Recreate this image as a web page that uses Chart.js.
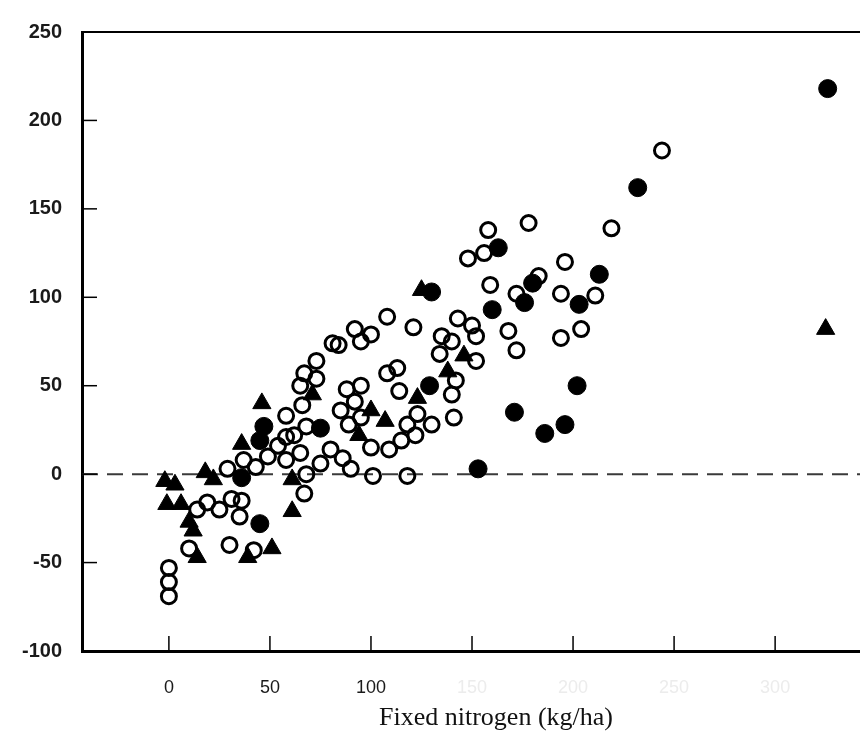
<!DOCTYPE html>
<html>
<head>
<meta charset="utf-8">
<script src="https://cdn.jsdelivr.net/npm/chart.js@4"></script>
<style>
  html, body { margin: 0; padding: 0; background: #fff; }
  #wrap { width: 860px; height: 753px; }
</style>
</head>
<body>
<div id="wrap"><canvas id="nChart" width="860" height="753"></canvas></div>
<script>
// values
const openX = [0, 0, 0, 10, 30, 42, 14, 19, 25, 31, 36, 35, 29, 37, 43, 49, 54, 58, 58, 65, 58,
  92, 100, 81, 84, 95, 73, 67, 73, 65, 88, 95, 66, 92, 85, 89, 95, 62, 68, 80, 86, 75, 90,
  100, 101, 118, 68, 67, 108, 121, 143, 150, 152, 135, 140, 134, 152, 168, 172, 108, 113,
  114, 142, 140, 141, 123, 118, 130, 122, 115, 109, 178, 158, 148, 156, 196, 159, 172, 183,
  194, 211, 219, 194, 204, 244];
const openY = [-53, -61, -69, -42, -40, -43, -20, -16, -20, -14, -15, -24, 3, 8, 4, 10, 16, 8, 21, 12, 33,
  82, 79, 74, 73, 75, 64, 57, 54, 50, 48, 50, 39, 41, 36, 28, 32, 22, 27, 14, 9, 6, 3,
  15, -1, -1, 0, -11, 89, 83, 88, 84, 78, 78, 75, 68, 64, 81, 70, 57, 60,
  47, 53, 45, 32, 34, 28, 28, 22, 19, 14, 142, 138, 122, 125, 120, 107, 102, 112,
  102, 101, 139, 77, 82, 183];

const filledX = [326, 232, 163, 130, 160, 176, 180, 213, 203, 129, 171, 186, 196, 202, 153, 75, 47, 45, 36, 45];
const filledY = [218, 162, 128, 103, 93, 97, 108, 113, 96, 50, 35, 23, 28, 50, 3, 26, 27, 19, -2, -28];

const triX = [325, 125, 46, 36, 71, 18, 22, -2, 3, -1, 6, 10, 12, 14, 39, 51, 61, 61, 94, 100, 107, 123, 138, 146];
const triY = [82, 104, 40, 17, 45, 1, -3, -4, -6, -17, -17, -27, -32, -47, -47, -42, -21, -3, 22, 36, 30, 43, 58, 67];

const xTicks = [0, 50, 100, 150, 200, 250, 300];
const yTicks = [-100, -50, 0, 50, 100, 150, 200, 250];
const xTitle = 'Fixed nitrogen (kg/ha)';

function pts(xs, ys) {
  return xs.map((x, i) => ({ x: x, y: ys[i] }));
}

// inward tick marks, top frame, dashed zero line, off-centre axis title
const decor = {
  id: 'decor',
  beforeDatasetsDraw(chart) {
    const { ctx, chartArea: a, scales } = chart;
    const y0 = scales.y.getPixelForValue(0);
    ctx.save();
    ctx.strokeStyle = '#3a3a3a';
    ctx.lineWidth = 2;
    ctx.setLineDash([16, 9]);
    ctx.beginPath();
    ctx.moveTo(a.left, y0);
    ctx.lineTo(a.right, y0);
    ctx.stroke();
    ctx.restore();
  },
  afterDraw(chart) {
    const { ctx, chartArea: a, scales } = chart;
    ctx.save();
    ctx.strokeStyle = '#000';
    ctx.lineWidth = 2;
    ctx.beginPath();
    ctx.moveTo(a.left, a.top);
    ctx.lineTo(a.right, a.top);
    ctx.stroke();
    ctx.lineWidth = 1.5;
    scales.y.ticks.forEach(t => {
      const py = scales.y.getPixelForValue(t.value);
      ctx.beginPath();
      ctx.moveTo(a.left, py);
      ctx.lineTo(a.left + 15, py);
      ctx.stroke();
    });
    scales.x.ticks.forEach(t => {
      const px = scales.x.getPixelForValue(t.value);
      ctx.beginPath();
      ctx.moveTo(px, a.bottom);
      ctx.lineTo(px, a.bottom - 15);
      ctx.stroke();
    });
    ctx.fillStyle = '#111';
    ctx.font = '26px "Liberation Serif", "DejaVu Serif", serif';
    ctx.textAlign = 'center';
    ctx.textBaseline = 'middle';
    ctx.fillText(xTitle, 496, 718);
    ctx.restore();
  }
};

const ctx = document.getElementById('nChart').getContext('2d');

const nChart = new Chart(ctx, {
  type: 'scatter',
  data: {
    datasets: [
      {
        label: 'open',
        data: pts(openX, openY),
        pointStyle: 'circle',
        pointRadius: 7.5,
        pointHoverRadius: 7.5,
        borderWidth: 3,
        borderColor: '#000',
        backgroundColor: 'rgba(255,255,255,0)'
      },
      {
        label: 'filled',
        data: pts(filledX, filledY),
        pointStyle: 'circle',
        pointRadius: 9,
        pointHoverRadius: 9,
        borderWidth: 1,
        borderColor: '#000',
        backgroundColor: '#000'
      },
      {
        label: 'triangle',
        data: pts(triX, triY),
        pointStyle: 'triangle',
        pointRadius: 10.5,
        pointHoverRadius: 10.5,
        borderWidth: 1,
        borderColor: '#000',
        backgroundColor: '#000'
      }
    ]
  },
  options: {
    responsive: false,
    animation: false,
    layout: { autoPadding: false, padding: { top: 24, right: 0, left: 0, bottom: 0 } },
    plugins: {
      legend: { display: false },
      tooltip: { enabled: false }
    },
    scales: {
      x: {
        type: 'linear',
        min: -43,
        max: 342,
        afterBuildTicks: s => { s.ticks = xTicks.map(v => ({ value: v })); },
        afterFit: s => { s.height = 102; },
        grid: { display: false, drawTicks: false },
        border: { display: true, color: '#000', width: 3 },
        ticks: {
          padding: 26,
          maxRotation: 0,
          color: c => (c.tick && c.tick.value > 100 ? '#ececec' : '#1a1a1a'),
          font: { family: '"Liberation Sans", Arial, sans-serif', size: 18 }
        }
      },
      y: {
        type: 'linear',
        min: -100,
        max: 250,
        afterBuildTicks: s => { s.ticks = yTicks.map(v => ({ value: v })); },
        afterFit: s => { s.width = 82; },
        grid: { display: false, drawTicks: false },
        border: { display: true, color: '#000', width: 3 },
        ticks: {
          padding: 20,
          color: '#1a1a1a',
          font: { family: '"Liberation Sans", Arial, sans-serif', size: 20, weight: 'bold' }
        }
      }
    }
  },
  plugins: [decor]
});
</script>
</body>
</html>
